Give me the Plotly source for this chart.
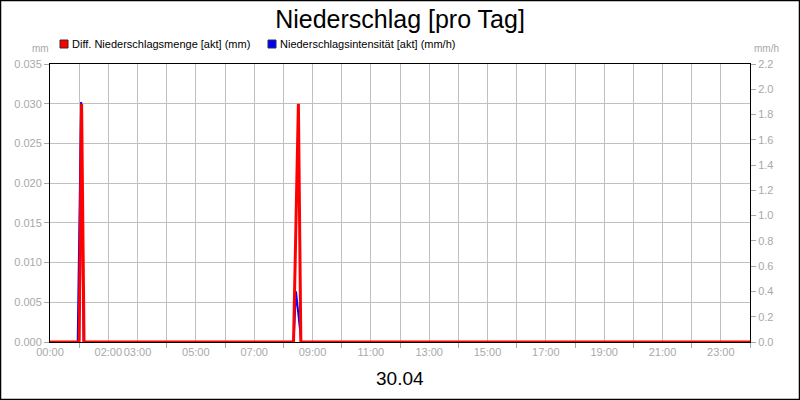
import plotly.graph_objects as go

menge_zeit = ["00:00", "01:00", "01:05", "01:10", "08:21", "08:31", "08:36", "24:00"]
menge_mm = [0.0, 0.0, 0.030, 0.0, 0.0, 0.030, 0.0, 0.0]

intens_zeit = ["00:00", "00:57", "01:04", "01:09", "08:21", "08:26", "08:37", "24:00"]
intens_mmh = [0.0, 0.0, 1.9, 0.0, 0.0, 0.40, 0.0, 0.0]

stunden_label = ["00:00", "02:00", "03:00", "05:00", "07:00", "09:00", "11:00",
                 "13:00", "15:00", "17:00", "19:00", "21:00", "23:00"]

legende = ["Diff. Niederschlagsmenge [akt] (mm)", "Niederschlagsintensität [akt] (mm/h)"]
legende_farbe = ["#ff0000", "#0000ff"]

GRAU = "#a8a8a8"
FONT = "Liberation Sans, Arial, sans-serif"
W, H = 700, 278   # Plotflaeche in px
L, B = 50, 58


def in_stunden(zeiten):
    out = []
    for z in zeiten:
        h, m = z.split(":")
        out.append(int(h) + int(m) / 60)
    return out


def px_x(x):
    return (x - L) / W


def px_y(y):
    # y von oben gemessen
    return (400 - B - y) / H


label_h = in_stunden(stunden_label)
andere_h = [h for h in range(25) if h not in label_h]

fig = go.Figure()

# blau auf der Basisachse (rechts), rot auf der ueberlagerten -> rot liegt oben
fig.add_trace(go.Scatter(x=in_stunden(intens_zeit), y=intens_mmh, mode="lines",
                         line=dict(color="#0000ff", width=2), yaxis="y",
                         showlegend=False, hoverinfo="skip"))
fig.add_trace(go.Scatter(x=in_stunden(menge_zeit), y=menge_mm, mode="lines",
                         line=dict(color="#ff0000", width=3), yaxis="y2",
                         showlegend=False, hoverinfo="skip"))

fig.update_layout(
    width=800, height=400,
    margin=dict(l=L, r=50, t=64, b=B, autoexpand=False),
    paper_bgcolor="white", plot_bgcolor="white",
    font=dict(family=FONT, size=11, color=GRAU),
    title=dict(text="Niederschlag [pro Tag]", x=0.5, xanchor="center",
               y=0.953, yanchor="middle", font=dict(size=25, color="black")),
    showlegend=False,
    xaxis=dict(range=[0, 24], tickmode="array", tickvals=label_h, ticktext=stunden_label,
               ticks="", tickangle=0, automargin=False,
               showgrid=True, gridcolor="#c0c0c0", gridwidth=1,
               showline=True, linecolor="black", linewidth=1, mirror=True,
               zeroline=False, tickfont=dict(color=GRAU, size=11),
               minor=dict(tickmode="array", tickvals=andere_h, ticks="outside",
                          ticklen=5, tickcolor=GRAU, showgrid=True,
                          gridcolor="#c0c0c0")),
    yaxis=dict(range=[0, 2.2], dtick=0.2, tickformat=".1f", side="right",
               automargin=False,
               showgrid=False, zeroline=False, ticks="outside", ticklen=5,
               tickcolor=GRAU, showline=True, linecolor="black", linewidth=1,
               tickfont=dict(color=GRAU, size=11)),
    yaxis2=dict(range=[0, 0.035], dtick=0.005, tickformat=".3f", side="left",
                overlaying="y", automargin=False,
                showgrid=True, gridcolor="#c0c0c0", zeroline=False,
                ticks="outside", ticklen=5, tickcolor=GRAU, showline=True,
                linecolor="black", linewidth=1, tickfont=dict(color=GRAU, size=11)),
)

# Legende von Hand: Quadrat + Text
leg_x = [60, 268]
for i, name in enumerate(legende):
    fig.add_shape(type="rect", xref="paper", yref="paper",
                  x0=px_x(leg_x[i]), x1=px_x(leg_x[i] + 8),
                  y0=px_y(48), y1=px_y(40),
                  fillcolor=legende_farbe[i], line=dict(color="#303030", width=1))
    fig.add_annotation(text=name, xref="paper", yref="paper",
                       x=px_x(leg_x[i] + 10), y=px_y(44), xanchor="left",
                       yanchor="middle", showarrow=False,
                       font=dict(size=11, color="black"))

fig.add_annotation(text="mm", xref="paper", yref="paper", x=px_x(40), y=px_y(49),
                   xanchor="center", yanchor="middle", showarrow=False,
                   font=dict(size=10, color=GRAU))
fig.add_annotation(text="mm/h", xref="paper", yref="paper", x=px_x(766), y=px_y(49),
                   xanchor="center", yanchor="middle", showarrow=False,
                   font=dict(size=10, color=GRAU))
fig.add_annotation(text="30.04", xref="paper", yref="paper", x=0.5, y=px_y(378),
                   xanchor="center", yanchor="middle", showarrow=False,
                   font=dict(size=19, color="black"))

# Rahmen um das ganze Bild
fig.add_shape(type="rect", xref="paper", yref="paper", x0=px_x(0.5), x1=px_x(799.5),
              y0=px_y(399.5), y1=px_y(0.5), line=dict(color="black", width=1.5),
              layer="above")

# Seitenrand des Browsers entfernen, damit die Grafik bei 0,0 beginnt
fig.write_html("out.html", config={"displayModeBar": False},
               post_script="document.body.style.margin='0';")
